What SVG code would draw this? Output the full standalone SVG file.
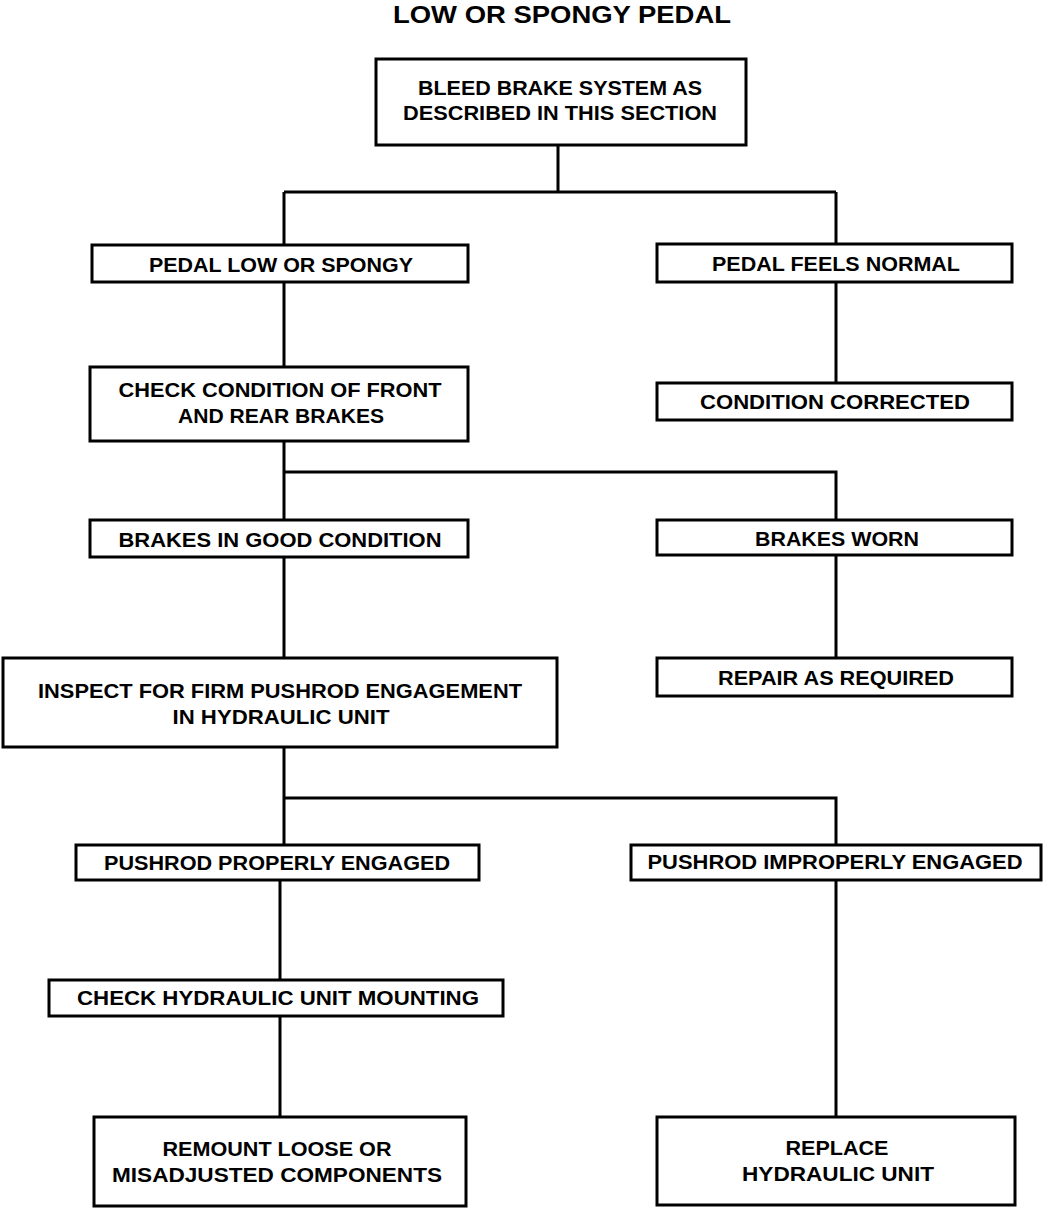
<svg xmlns="http://www.w3.org/2000/svg" width="1056" height="1208" viewBox="0 0 1056 1208">
<style>
.box{fill:#fff;stroke:#000;stroke-width:3}
.t{font-family:"Liberation Sans",Arial,sans-serif;font-weight:bold;font-size:20px;fill:#000;text-anchor:middle}
.title{font-size:23px}
.c{fill:none;stroke:#000;stroke-width:3}
</style>
<rect width="1056" height="1208" fill="#fff"/>
<text class="t title" x="562" y="23" textLength="338" lengthAdjust="spacingAndGlyphs">LOW OR SPONGY PEDAL</text>
<g id="connectors">
<path class="c" d="M558 145V192M284 192H836M284 192V245M836 192V244"/>
<path class="c" d="M284 282V367M836 282V383"/>
<path class="c" d="M284 441V472H836V520M284 472V520"/>
<path class="c" d="M284 557V658M836 555V658"/>
<path class="c" d="M284 747V798H836V845M284 798V845"/>
<path class="c" d="M280 880V980M280 1016V1117M836 880V1117"/>
</g>
<g id="n1"><rect class="box" x="376" y="59" width="370" height="86"/>
<text class="t" x="560" y="95" textLength="284" lengthAdjust="spacingAndGlyphs">BLEED BRAKE SYSTEM AS</text>
<text class="t" x="560" y="120" textLength="314" lengthAdjust="spacingAndGlyphs">DESCRIBED IN THIS SECTION</text></g>
<g id="n2"><rect class="box" x="92" y="245" width="376" height="37"/>
<text class="t" x="281" y="272" textLength="264" lengthAdjust="spacingAndGlyphs">PEDAL LOW OR SPONGY</text></g>
<g id="n3"><rect class="box" x="657" y="244" width="355" height="38"/>
<text class="t" x="836" y="271" textLength="248" lengthAdjust="spacingAndGlyphs">PEDAL FEELS NORMAL</text></g>
<g id="n4"><rect class="box" x="90" y="367" width="378" height="74"/>
<text class="t" x="280" y="397" textLength="323" lengthAdjust="spacingAndGlyphs">CHECK CONDITION OF FRONT</text>
<text class="t" x="281" y="423" textLength="206" lengthAdjust="spacingAndGlyphs">AND REAR BRAKES</text></g>
<g id="n5"><rect class="box" x="657" y="383" width="355" height="37"/>
<text class="t" x="835" y="409" textLength="270" lengthAdjust="spacingAndGlyphs">CONDITION CORRECTED</text></g>
<g id="n6"><rect class="box" x="90" y="520" width="378" height="37"/>
<text class="t" x="280" y="547" textLength="323" lengthAdjust="spacingAndGlyphs">BRAKES IN GOOD CONDITION</text></g>
<g id="n7"><rect class="box" x="657" y="520" width="355" height="35"/>
<text class="t" x="837" y="546" textLength="164" lengthAdjust="spacingAndGlyphs">BRAKES WORN</text></g>
<g id="n8"><rect class="box" x="3" y="658" width="554" height="89"/>
<text class="t" x="280" y="698" textLength="484" lengthAdjust="spacingAndGlyphs">INSPECT FOR FIRM PUSHROD ENGAGEMENT</text>
<text class="t" x="281" y="724" textLength="217" lengthAdjust="spacingAndGlyphs">IN HYDRAULIC UNIT</text></g>
<g id="n9"><rect class="box" x="657" y="658" width="355" height="38"/>
<text class="t" x="836" y="685" textLength="236" lengthAdjust="spacingAndGlyphs">REPAIR AS REQUIRED</text></g>
<g id="n10"><rect class="box" x="76" y="845" width="403" height="35"/>
<text class="t" x="277" y="870" textLength="346" lengthAdjust="spacingAndGlyphs">PUSHROD PROPERLY ENGAGED</text></g>
<g id="n11"><rect class="box" x="631" y="845" width="410" height="35"/>
<text class="t" x="835" y="869" textLength="375" lengthAdjust="spacingAndGlyphs">PUSHROD IMPROPERLY ENGAGED</text></g>
<g id="n12"><rect class="box" x="49" y="980" width="454" height="36"/>
<text class="t" x="278" y="1005" textLength="402" lengthAdjust="spacingAndGlyphs">CHECK HYDRAULIC UNIT MOUNTING</text></g>
<g id="n13"><rect class="box" x="94" y="1117" width="372" height="89"/>
<text class="t" x="277" y="1156" textLength="229" lengthAdjust="spacingAndGlyphs">REMOUNT LOOSE OR</text>
<text class="t" x="277" y="1182" textLength="330" lengthAdjust="spacingAndGlyphs">MISADJUSTED COMPONENTS</text></g>
<g id="n14"><rect class="box" x="657" y="1117" width="358" height="88"/>
<text class="t" x="837" y="1155" textLength="103" lengthAdjust="spacingAndGlyphs">REPLACE</text>
<text class="t" x="838" y="1181" textLength="192" lengthAdjust="spacingAndGlyphs">HYDRAULIC UNIT</text></g>
</svg>
